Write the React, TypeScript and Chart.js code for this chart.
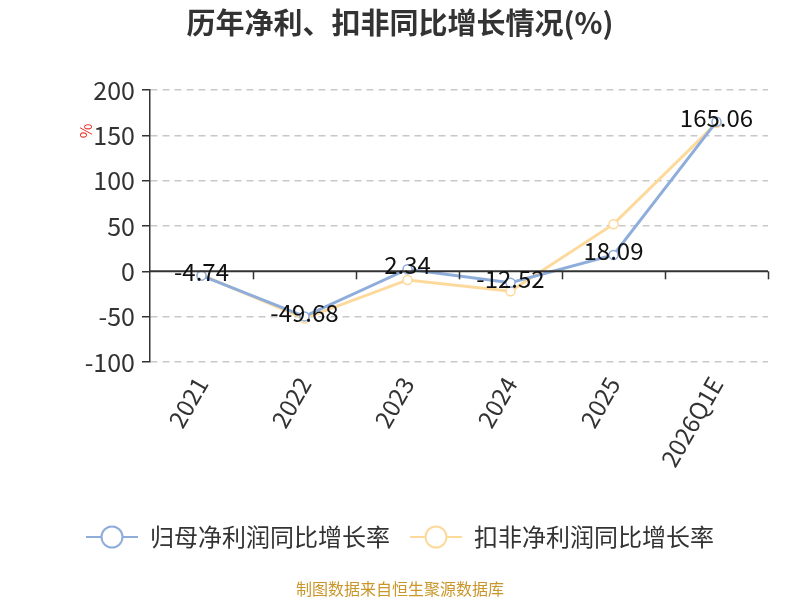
import React, { useEffect, useRef } from "react";
import { Chart, registerables } from "chart.js";

Chart.register(...registerables);

const categories = ["2021", "2022", "2023", "2024", "2025", "2026Q1E"];
const netProfitGrowth = [-4.74, -49.68, 2.34, -12.52, 18.09, 165.06];
const deductedGrowth = [-4.0, -52.0, -9.5, -22.0, 52.0, 163.5];
const yTicks = { min: -100, max: 200, step: 50 };

const FONT = '"Noto Sans CJK SC", "Noto Sans", sans-serif';
const BLUE = "#8eaddb";
const ORANGE = "#fdd99b";

function makeLegendIcon(color: string): HTMLCanvasElement {
  const c = document.createElement("canvas");
  c.width = 52;
  c.height = 26;
  const g = c.getContext("2d")!;
  g.strokeStyle = color;
  g.lineWidth = 2;
  g.beginPath();
  g.moveTo(0, 13);
  g.lineTo(52, 13);
  g.stroke();
  g.beginPath();
  g.arc(26, 13, 10.5, 0, Math.PI * 2);
  g.fillStyle = "#fff";
  g.fill();
  g.stroke();
  return c;
}

export default function App() {
  const ref = useRef<HTMLCanvasElement | null>(null);

  useEffect(() => {
    document.body.style.margin = "0";
    const canvas = ref.current!;
    const icons = [makeLegendIcon(BLUE), makeLegendIcon(ORANGE)];

    const decor = {
      id: "decor",
      afterDraw(chart: any) {
        const { ctx, chartArea, scales } = chart;
        const y0 = scales.y.getPixelForValue(0);
        ctx.save();
        // zero axis line
        ctx.strokeStyle = "#333";
        ctx.lineWidth = 2;
        ctx.beginPath();
        ctx.moveTo(chartArea.left, y0);
        ctx.lineTo(chartArea.right, y0);
        ctx.stroke();
        // category boundary ticks
        ctx.lineWidth = 1.5;
        const n = categories.length;
        const w = (chartArea.right - chartArea.left) / n;
        for (let i = 1; i <= n; i++) {
          const x = Math.round(chartArea.left + w * i) + 0.5;
          ctx.beginPath();
          ctx.moveTo(x, y0);
          ctx.lineTo(x, y0 + 8);
          ctx.stroke();
        }
        // title
        ctx.fillStyle = "#333";
        ctx.font = `bold 29px ${FONT}`;
        ctx.textAlign = "center";
        ctx.textBaseline = "middle";
        ctx.fillText("历年净利、扣非同比增长情况(%)", 400, 23);
        // source
        ctx.fillStyle = "#c9962a";
        ctx.font = `16px ${FONT}`;
        ctx.fillText("制图数据来自恒生聚源数据库", 400, 589);
        // % unit
        ctx.save();
        ctx.translate(86, 131);
        ctx.rotate(-Math.PI / 2);
        ctx.fillStyle = "#e8312a";
        ctx.font = `16px ${FONT}`;
        ctx.fillText("%", 0, 0);
        ctx.restore();
        // data labels for first series
        const meta = chart.getDatasetMeta(0);
        ctx.fillStyle = "#111";
        ctx.font = `24px ${FONT}`;
        meta.data.forEach((pt: any, i: number) => {
          ctx.fillText(netProfitGrowth[i].toFixed(2), pt.x, pt.y - 4);
        });
        ctx.restore();
      },
    };

    const chart = new Chart(canvas, {
      type: "line",
      data: {
        labels: categories,
        datasets: [
          {
            label: "归母净利润同比增长率",
            data: netProfitGrowth,
            borderColor: BLUE,
            backgroundColor: "#fff",
            borderWidth: 3,
            pointRadius: 4.5,
            pointBorderWidth: 1.5,
            pointBackgroundColor: "#fff",
            pointBorderColor: BLUE,
          },
          {
            label: "扣非净利润同比增长率",
            data: deductedGrowth,
            borderColor: ORANGE,
            backgroundColor: "#fff",
            borderWidth: 3,
            pointRadius: 4.5,
            pointBorderWidth: 1.5,
            pointBackgroundColor: "#fff",
            pointBorderColor: ORANGE,
          },
        ],
      },
      options: {
        animation: false,
        responsive: false,
        layout: { padding: { top: 90, bottom: 41, left: 0, right: 0 } },
        plugins: {
          title: { display: false },
          tooltip: { enabled: false },
          legend: {
            position: "bottom",
            labels: {
              usePointStyle: true,
              pointStyleWidth: 52,
              padding: 20,
              color: "#333",
              font: { size: 24, family: FONT },
              generateLabels: (ch: any) =>
                ch.data.datasets.map((ds: any, i: number) => ({
                  text: ds.label,
                  pointStyle: icons[i],
                  fillStyle: "#fff",
                  strokeStyle: ds.borderColor,
                  lineWidth: 0,
                  datasetIndex: i,
                  hidden: false,
                  fontColor: "#333",
                })),
            },
          },
        },
        scales: {
          x: {
            offset: true,
            grid: { display: false },
            border: { display: false },
            ticks: {
              color: "#333",
              font: { size: 24, family: FONT },
              minRotation: 60,
              maxRotation: 60,
              padding: 2,
            },
            afterFit: (s: any) => {
              s.height = 143;
            },
          },
          y: {
            min: yTicks.min,
            max: yTicks.max,
            ticks: {
              stepSize: yTicks.step,
              color: "#333",
              font: { size: 25, family: FONT },
              padding: 7,
            },
            grid: {
              color: (c: any) => (c.tick && c.tick.value === 0 ? "rgba(0,0,0,0)" : "#c8c8c8"),
              lineWidth: 1.5,
              tickColor: "#333",
              tickLength: 8,
              tickBorderDash: [],
            },
            border: { display: true, color: "#333", width: 1.5, dash: [7, 5] },
            afterFit: (s: any) => {
              s.width = 150;
            },
          },
          yRightSpace: {
            type: "linear",
            position: "right",
            display: true,
            grid: { display: false, drawOnChartArea: false },
            border: { display: false },
            ticks: { display: false },
            afterFit: (s: any) => {
              s.width = 32;
            },
          },
        },
      },
      plugins: [decor],
    } as any);

    return () => chart.destroy();
  }, []);

  return (
    <div style={{ width: 800, height: 600 }}>
      <canvas ref={ref} width={800} height={600} style={{ display: "block" }} />
    </div>
  );
}
